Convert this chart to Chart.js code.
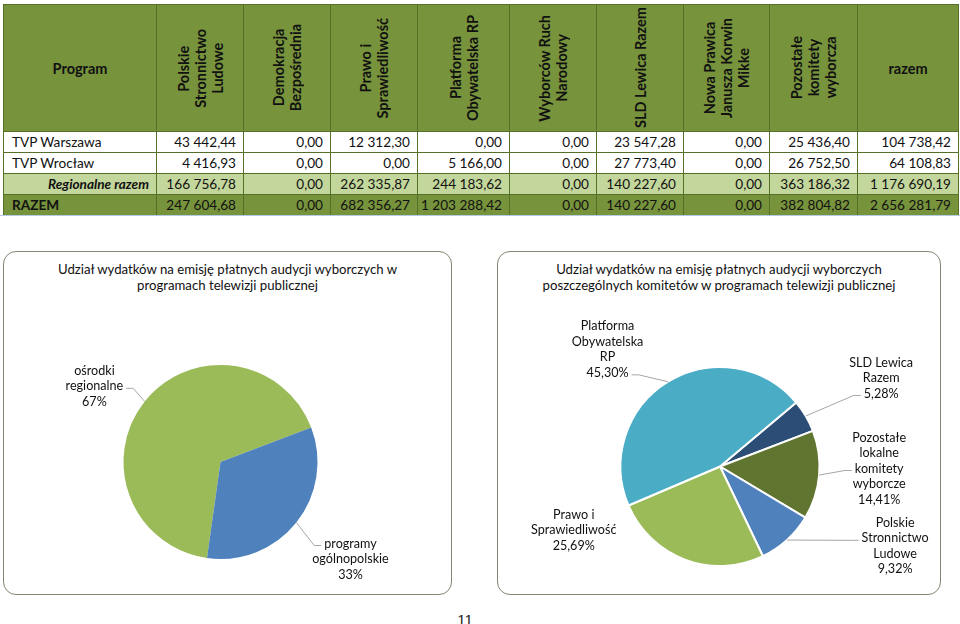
<!DOCTYPE html>
<html lang="pl">
<head>
<meta charset="utf-8">
<script src="https://cdn.jsdelivr.net/npm/chart.js@4.4.1/dist/chart.umd.min.js"></script>
<style>
  html, body { margin:0; padding:0; background:#fff; }
  body { width:960px; height:624px; position:relative; overflow:hidden; font-family: Lato, "Open Sans", sans-serif; color:#111; }
  #tbl { position:absolute; left:3px; top:4px; width:955px; border-collapse:collapse; table-layout:fixed; font-size:13.6px; }
  #tbl td, #tbl th { border:1px solid #56702a; padding:0; overflow:hidden; white-space:nowrap; }
  #tbl thead th { background:#77933c; height:126px; font-weight:bold; font-size:14.5px; color:#111; text-align:center; vertical-align:middle; }
  #tbl .v { writing-mode: vertical-rl; transform: rotate(180deg); line-height:17px; text-align:center; margin:0 auto; white-space:pre; }
  #tbl tbody td { height:20px; text-align:right; padding-right:7px; }
  #tbl tbody td.lbl { text-align:left; padding-left:8px; padding-right:0; }
  #tbl tr.white td { background:#fff; }
  #tbl tr.reg td { background:#c3d69b; }
  #tbl tr.reg td.lbl { font-weight:bold; font-style:italic; text-align:right; padding-right:7px; padding-left:0; }
  #tbl tr.tot td { background:#77933c; }
  #tbl tr.tot td.lbl { font-weight:bold; }
  #blueLine { position:absolute; left:0; top:215px; width:960px; height:1px; background:#b4cbe6; }
  .box { position:absolute; border:1.5px solid #858670; border-radius:13px; box-sizing:border-box; }
  .box .title { position:absolute; left:0; right:0; top:9px; text-align:center; font-size:13.2px; line-height:16px; color:#111; }
  .box .cv { position:absolute; left:0; top:0; width:100%; height:100%; }
  #pageNo { position:absolute; left:452px; top:611px; width:26px; text-align:center; font-family:"Liberation Sans", Arial, sans-serif; font-size:15px; color:#222; }
</style>
</head>
<body>
<table id="tbl">
  <colgroup id="cols"></colgroup>
  <thead><tr id="hdr"></tr></thead>
  <tbody id="body"></tbody>
</table>
<div id="blueLine"></div>

<div class="box" id="box1" style="left:3px; top:251px; width:449px; height:344px;">
  <div class="title" id="title1"></div>
  <div class="cv"><canvas id="pie1"></canvas></div>
</div>
<div class="box" id="box2" style="left:497px; top:251px; width:444px; height:344px;">
  <div class="title" id="title2"></div>
  <div class="cv"><canvas id="pie2"></canvas></div>
</div>
<div id="pageNo">11</div>

<script>
// ---------------- DATA ----------------
const firstHeader = 'Program';
const committees = [
  'Polskie\nStronnictwo\nLudowe',
  'Demokracja\nBezpośrednia',
  'Prawo i\nSprawiedliwość',
  'Platforma\nObywatelska RP',
  'Wyborców Ruch\nNarodowy',
  'SLD Lewica Razem',
  'Nowa Prawica\nJanusza Korwin\nMikke',
  'Pozostałe\nkomitety\nwyborcza'
];
const totalHeader = 'razem';
const programs = ['TVP Warszawa', 'TVP Wrocław', 'Regionalne razem', 'RAZEM'];
const tvpWarszawa  = [43442.44, 0, 12312.30, 0, 0, 23547.28, 0, 25436.40, 104738.42];
const tvpWroclaw   = [4416.93, 0, 0, 5166.00, 0, 27773.40, 0, 26752.50, 64108.83];
const regionalne   = [166756.78, 0, 262335.87, 244183.62, 0, 140227.60, 0, 363186.32, 1176690.19];
const razem        = [247604.68, 0, 682356.27, 1203288.42, 0, 140227.60, 0, 382804.82, 2656281.79];

const pie1Title = 'Udział wydatków na emisję płatnych audycji wyborczych w\nprogramach telewizji publicznej';
const pie1Labels = ['ośrodki\nregionalne', 'programy\nogólnopolskie'];
const pie1Values = [67, 33];

const pie2Title = 'Udział wydatków na emisję płatnych audycji wyborczych\nposzczególnych komitetów w programach telewizji publicznej';
const pie2Labels = ['SLD Lewica\nRazem', 'Pozostałe\nlokalne\nkomitety\nwyborcze', 'Polskie\nStronnictwo\nLudowe', 'Prawo i\nSprawiedliwość', 'Platforma\nObywatelska\nRP'];
const pie2Values = [5.28, 14.41, 9.32, 25.69, 45.30];

// ---------------- TABLE ----------------
const colWidths = [153, 87, 87, 87, 92, 87, 87, 86, 88, 101];
const cols = document.getElementById('cols');
colWidths.forEach(w => { const c = document.createElement('col'); c.style.width = w + 'px'; cols.appendChild(c); });

function fmtPL(v, dec) {
  const s = v.toFixed(dec);
  let [ip, fp] = s.split('.');
  ip = ip.replace(/\B(?=(\d{3})+(?!\d))/g, '\u00a0');
  return fp !== undefined ? ip + ',' + fp : ip;
}

const hdr = document.getElementById('hdr');
function addTh(text, vertical) {
  const th = document.createElement('th');
  if (vertical) { const d = document.createElement('div'); d.className = 'v'; d.textContent = text; th.appendChild(d); }
  else th.textContent = text;
  hdr.appendChild(th);
}
addTh(firstHeader, false);
committees.forEach(c => addTh(c, true));
addTh(totalHeader, false);

const body = document.getElementById('body');
const rowData = [tvpWarszawa, tvpWroclaw, regionalne, razem];
const rowClass = ['white', 'white', 'reg', 'tot'];
programs.forEach((p, i) => {
  const tr = document.createElement('tr'); tr.className = rowClass[i];
  const td0 = document.createElement('td'); td0.className = 'lbl'; td0.textContent = p; tr.appendChild(td0);
  rowData[i].forEach(v => { const td = document.createElement('td'); td.textContent = fmtPL(v, 2); tr.appendChild(td); });
  body.appendChild(tr);
});

document.getElementById('title1').innerText = pie1Title;
document.getElementById('title2').innerText = pie2Title;

// ---------------- PIE LABEL PLUGIN ----------------
const pieLabels = {
  id: 'pieLabels',
  afterDatasetsDraw(chart, args, opts) {
    const ctx = chart.ctx;
    const meta = chart.getDatasetMeta(0);
    const ds = chart.data.datasets[0];
    ctx.save();
    ctx.font = opts.font;
    ctx.textAlign = 'center';
    ctx.textBaseline = 'middle';
    meta.data.forEach((arc, i) => {
      const p = arc.getProps(['x', 'y', 'startAngle', 'endAngle', 'outerRadius'], true);
      const mid = (p.startAngle + p.endAngle) / 2;
      const lay = opts.layout[i];
      const cx = p.x + lay.dx * p.outerRadius;
      const cy = p.y + lay.dy * p.outerRadius;
      const lines = chart.data.labels[i].split('\n').concat([fmtPL(ds.data[i], opts.decimals) + '%']);
      const lh = opts.lineHeight;
      const top = cy - (lines.length - 1) * lh / 2;
      ctx.fillStyle = opts.color;
      lines.forEach((t, k) => ctx.fillText(t, cx, top + k * lh));
      if (lay.attach !== null && lay.attach !== undefined) {
        const ly = top + lay.attach * lh + 2;
        const w = ctx.measureText(lines[lay.attach]).width;
        const side = cx > p.x ? -1 : 1;
        const ax = cx + side * (w / 2 + 3);
        const px = p.x + Math.cos(mid) * p.outerRadius;
        const py = p.y + Math.sin(mid) * p.outerRadius;
        ctx.strokeStyle = opts.lineColor;
        ctx.lineWidth = 1;
        ctx.beginPath();
        ctx.moveTo(px, py);
        ctx.lineTo(ax + side * 7, ly);
        ctx.lineTo(ax, ly);
        ctx.stroke();
      }
    });
    ctx.restore();
  }
};

function makePie(id, labels, values, colors, rotation, padding, layout, decimals, borderW) {
  return new Chart(document.getElementById(id), {
    type: 'pie',
    data: { labels: labels, datasets: [{ data: values, backgroundColor: colors, borderColor: '#ffffff', borderWidth: borderW }] },
    options: {
      responsive: true,
      maintainAspectRatio: false,
      animation: false,
      rotation: rotation,
      layout: { padding: padding },
      plugins: {
        legend: { display: false },
        tooltip: { enabled: false },
        title: { display: false },
        pieLabels: { font: '12.6px Lato, "Open Sans", sans-serif', color: '#111111', lineHeight: 15.5, lineColor: '#a6a6a6', layout: layout, decimals: decimals }
      }
    },
    plugins: [pieLabels]
  });
}

makePie('pie1', pie1Labels, pie1Values, ['#9bbb59', '#4f81bd'], 188,
  { left: 119, right: 133, top: 113, bottom: 35 },
  [ { dx: -1.30, dy: -0.78, attach: 1 }, { dx: 1.34, dy: 1.0, attach: 0 } ], 0, 0);

makePie('pie2', pie2Labels, pie2Values, ['#2c4d75', '#607530', '#4f81bd', '#9bbb59', '#4bacc6'], 50,
  { left: 121, right: 119, top: 114, bottom: 27 },
  [ { dx: 1.62, dy: -0.89, attach: 2 }, { dx: 1.60, dy: 0.02, attach: 2 }, { dx: 1.76, dy: 0.80, attach: 1 },
    { dx: -1.47, dy: 0.64, attach: null }, { dx: -1.13, dy: -1.175, attach: 3 } ], 2, 2);
</script>
</body>
</html>
